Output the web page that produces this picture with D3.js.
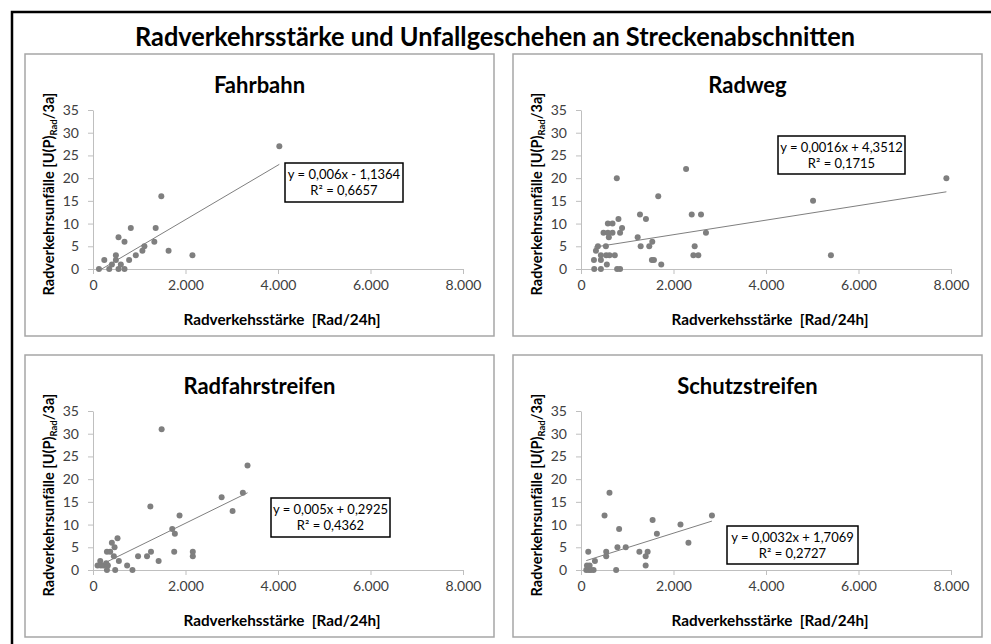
<!DOCTYPE html>
<html>
<head>
<meta charset="utf-8">
<script src="https://cdn.jsdelivr.net/npm/d3@7"></script>
<style>
body { margin: 0; background: #fff; }
svg { display: block; font-family: Lato, "Open Sans", sans-serif; }
</style>
</head>
<body>
<svg id="chart" width="991" height="644"></svg>
<script>

// --- data ---
var titles = ['Fahrbahn', 'Radweg', 'Radfahrstreifen', 'Schutzstreifen'];

var fahrbahn = [[129,0],[244,2],[351,0],[409,1],[495,2],[495,3],[552,7],[552,0],[602,1],[681,6],
	[681,0],[781,2],[817,9],[925,3],[1068,4],[1111,5],[1326,6],[1355,9],[1477,16],[1634,4],
	[2150,3],[4029,27]];

var radweg = [[280,2],[286,0],[323,4],[366,5],[430,3],[430,2],[430,0],[487,8],[538,5],[545,3],
	[559,1],[581,10],[581,8],[602,7],[616,3],[681,10],[681,8],[731,3],[774,20],[781,0],
	[810,11],[845,8],[845,0],[888,9],[1225,7],[1275,12],[1290,5],[1404,11],[1476,5],[1541,6],
	[1533,2],[1577,2],[1670,16],[1735,1],[2272,22],[2394,12],[2458,5],[2430,3],[2537,3],[2595,12],
	[2702,8],[5017,15],[5404,3],[7900,20]];

var radfahrstreifen = [[99,1],[157,2],[172,1],[229,1],[286,1.5],[301,0],[301,4],[322,1],[372,4],[408,6],
	[451,3],[466,5],[480,0],[530,7],[559,2],[738,1],[853,0],[974,3],[1168,3],[1240,14],
	[1254,4],[1419,2],[1484,31],[1713,9],[1770,8],[1756,4],[1871,12],[2158,4],[2158,3],[2781,16],
	[3018,13],[3240,17],[3341,23]];

var schutzstreifen = [[114,0],[129,1],[157,4],[172,0],[186,1],[215,0],[272,0],[301,2],[509,12],[545,4],
	[545,3],[616,17],[760,0],[788,5],[824,9],[967,5],[1262,4],[1398,3],[1398,1],[1441,4],
	[1548,11],[1641,8],[2151,10],[2323,6],[2831,12]];

// trend lines: slope, intercept
var slopes = [0.006, 0.0016, 0.005, 0.0032];
var intercepts = [-1.1364, 4.3512, 0.2925, 1.7069];
var equations = ['y = 0,006x - 1,1364', 'y = 0,0016x + 4,3512', 'y = 0,005x + 0,2925', 'y = 0,0032x + 1,7069'];
var rSquared = ['R² = 0,6657', 'R² = 0,1715', 'R² = 0,4362', 'R² = 0,2727'];

var xTicks = [0, 2000, 4000, 6000, 8000];
var yTicks = [0, 5, 10, 15, 20, 25, 30, 35];

var series = [fahrbahn, radweg, radfahrstreifen, schutzstreifen];

// --- layout ---
var svg = d3.select('#chart');
var g = svg.append('g');
var de = d3.formatLocale({decimal: ',', thousands: '.', grouping: [3], currency: ['', '€']});
var fmt = de.format(',.0f');

var panelW = 469, panelH = 282;
var panelPos = [[25, 54], [513, 54], [25, 355], [513, 355]];
// equation boxes (x, y, w, h) inside each panel
var eqBox = [[260, 109, 118, 39], [265, 82, 127, 38], [246, 143, 119, 39], [214, 171, 131, 38]];

// outer black frame, runs off the right and bottom edge
g.append('rect')
	.attr('x', 12)
	.attr('y', 12)
	.attr('width', 1000)
	.attr('height', 700)
	.style('fill', 'none')
	.attr('stroke', '#000')
	.attr('stroke-width', 2.5);

g.append('text')
	.attr('x', 495)
	.attr('y', 46)
	.attr('text-anchor', 'middle')
	.attr('textLength', 720)
	.attr('lengthAdjust', 'spacingAndGlyphs')
	.style('font-size', '26px')
	.style('font-weight', 'bold')
	.style('fill', '#000')
	.text('Radverkehrsstärke und Unfallgeschehen an Streckenabschnitten');

series.forEach(function(data, i) {
	drawPanel(i, data);
});

function drawPanel(i, data) {

	var px = panelPos[i][0], py = panelPos[i][1];
	var p = g.append('g').attr('transform', 'translate(' + px + ',' + py + ')');

	p.append('rect')
		.attr('x', 0)
		.attr('y', 0)
		.attr('width', panelW)
		.attr('height', panelH)
		.style('fill', '#fff')
		.attr('stroke', '#a6a6a6')
		.attr('stroke-width', 1.5);

	var x = d3.scaleLinear().domain([0, 8000]).range([68, 68 + 370]);
	var y = d3.scaleLinear().domain([0, 35]).range([215, 56]);

	var xAxis = p.append('g')
		.attr('transform', 'translate(0,' + y(0) + ')')
		.call(d3.axisBottom(x).tickValues(xTicks).tickFormat(fmt).tickSize(5).tickSizeOuter(0).tickPadding(6));

	var yAxis = p.append('g')
		.attr('transform', 'translate(' + x(0) + ',0)')
		.call(d3.axisLeft(y).tickValues(yTicks).tickSize(5).tickSizeOuter(0).tickPadding(9));

	[xAxis, yAxis].forEach(function(a) {
		a.selectAll('path, line').attr('stroke', '#bfbfbf');
		a.selectAll('text')
			.style('font-size', '14px')
			.style('font-family', 'Lato, sans-serif')
			.style('fill', '#404040');
	});

	p.append('text')
		.attr('x', panelW / 2)
		.attr('y', 39)
		.attr('text-anchor', 'middle')
		.style('font-size', '22px')
		.style('font-weight', 'bold')
		.style('fill', '#000')
		.text(titles[i]);

	p.append('text')
		.attr('x', 257)
		.attr('y', 271)
		.attr('text-anchor', 'middle')
		.attr('textLength', 197)
		.attr('lengthAdjust', 'spacingAndGlyphs')
		.style('font-size', '15px')
		.style('font-weight', 'bold')
		.style('fill', '#000')
		.attr('xml:space', 'preserve')
		.text('Radverkehsstärke  [Rad/24h]');

	var yl = p.append('text')
		.attr('transform', 'translate(29,' + 140 + ') rotate(-90)')
		.attr('text-anchor', 'middle')
		.style('font-size', '14.5px')
		.style('font-weight', 'bold')
		.style('fill', '#000');
	yl.append('tspan').text('Radverkehrsunfälle [U(P)');
	yl.append('tspan').attr('dy', 3).style('font-size', '9.5px').text('Rad');
	yl.append('tspan').attr('dy', -3).text('/3a]');

	// trend line from smallest to largest x
	var ext = d3.extent(data, function(d) { return d[0]; });
	var line = d3.line()
		.x(function(d) { return x(d); })
		.y(function(d) { return y(slopes[i] * d + intercepts[i]); });

	p.append('path')
		.datum(ext)
		.attr('d', line)
		.style('fill', 'none')
		.attr('stroke', '#7f7f7f')
		.attr('stroke-width', 1);

	p.selectAll('circle.pt')
		.data(data)
		.enter().append('circle')
		.attr('class', 'pt')
		.attr('cx', function(d) { return x(d[0]); })
		.attr('cy', function(d) { return y(d[1]); })
		.attr('r', 3)
		.style('fill', '#7f7f7f');

	var b = eqBox[i];
	p.append('rect')
		.attr('x', b[0])
		.attr('y', b[1])
		.attr('width', b[2])
		.attr('height', b[3])
		.style('fill', '#fff')
		.attr('stroke', '#000')
		.attr('stroke-width', 1.5);

	p.append('text')
		.attr('x', b[0] + b[2] / 2)
		.attr('y', b[1] + 16)
		.attr('text-anchor', 'middle')
		.style('font-size', '13px')
		.style('fill', '#000')
		.text(equations[i]);

	p.append('text')
		.attr('x', b[0] + b[2] / 2)
		.attr('y', b[1] + 32)
		.attr('text-anchor', 'middle')
		.style('font-size', '13px')
		.style('fill', '#000')
		.text(rSquared[i]);
}
</script>
</body>
</html>
